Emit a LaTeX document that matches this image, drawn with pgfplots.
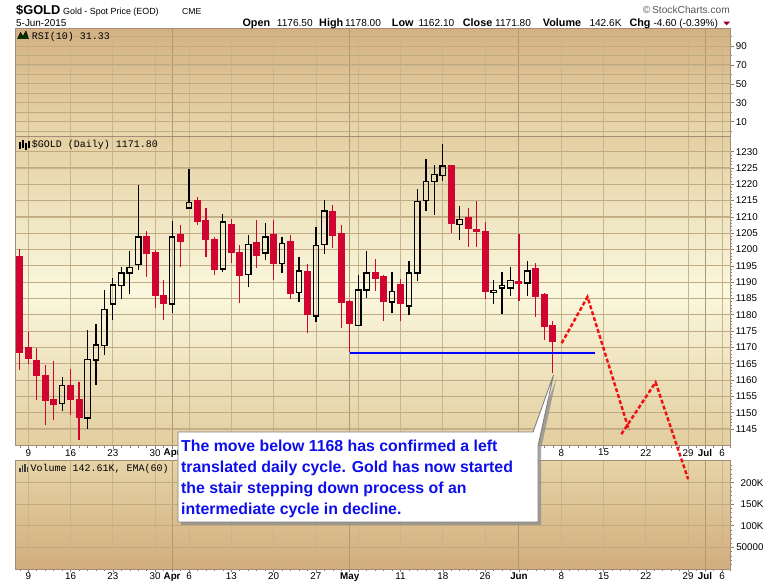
\documentclass[border=0pt]{standalone}
\usepackage{fontspec}
\setmainfont{Liberation Sans}
\newfontfamily\monofont{Liberation Mono}
\usepackage{pgfplots}
\usepackage{pgfplotstable}
\pgfplotsset{compat=1.18}

\definecolor{candred}{RGB}{208,4,48}
\definecolor{gridc}{RGB}{200,180,142}
\definecolor{hgridc}{RGB}{192,170,130}
\definecolor{monthc}{RGB}{175,152,120}
\definecolor{borderc}{RGB}{165,140,118}
\definecolor{tickc}{RGB}{150,122,100}
\definecolor{txtblue}{RGB}{14,14,236}
\definecolor{rsitop}{RGB}{212,177,130}
\definecolor{rsibot}{RGB}{233,216,172}
\definecolor{prtop}{RGB}{228,208,162}
\definecolor{prmid}{RGB}{250,248,222}
\definecolor{prbot}{RGB}{226,205,158}
\definecolor{voltop}{RGB}{230,211,166}
\definecolor{volbot}{RGB}{210,173,125}
\definecolor{dashred}{RGB}{240,16,16}
\definecolor{chgred}{RGB}{150,0,40}

\tikzset{hgrid/.style={draw=hgridc, line width=1pt}}

% down (red) candles: index open high low close
\pgfplotstableread{
i o h l c
-1 1197.7 1200.3 1163.0 1168.3
0 1169.8 1174.7 1164.9 1166.4
1 1165.9 1169.8 1153.8 1161.1
2 1161.3 1164.7 1146.3 1153.5
3 1154.0 1165.9 1147.7 1152.2
5 1158.3 1163.4 1149.4 1153.8
6 1154.0 1159.5 1141.7 1148.3
14 1203.8 1205.7 1191.7 1198.5
15 1198.9 1199.9 1182.2 1185.9
16 1185.9 1190.7 1178.3 1183.2
18 1204.5 1207.6 1194.8 1202.4
20 1214.9 1216.0 1207.6 1208.3
21 1208.8 1212.7 1197.6 1202.8
22 1203.0 1203.7 1192.2 1193.8
24 1207.6 1209.4 1196.0 1198.8
25 1199.0 1201.4 1183.5 1192.0
27 1202.0 1209.1 1194.2 1197.9
29 1204.5 1209.1 1190.7 1195.6
31 1202.3 1204.5 1184.9 1186.5
33 1193.2 1195.6 1174.3 1179.8
36 1211.5 1213.7 1200.6 1204.0
37 1204.8 1207.6 1176.1 1183.5
38 1183.9 1184.6 1168.5 1177.3
41 1192.8 1197.1 1187.4 1190.9
42 1191.6 1192.2 1178.0 1183.8
44 1189.1 1190.9 1178.0 1183.2
50 1225.6 1225.6 1205.2 1207.7
52 1209.6 1212.7 1200.9 1206.4
53 1206.2 1214.9 1200.9 1205.5
54 1205.4 1208.5 1184.7 1187.1
58 1190.1 1204.7 1184.1 1189.4
60 1194.1 1195.8 1179.2 1185.6
61 1186.1 1186.6 1172.3 1176.4
62 1176.5 1178.0 1162.1 1171.8
}\down

% up (hollow) candles
\pgfplotstableread{
i o h l c
4 1152.7 1161.0 1150.4 1158.4
7 1148.4 1175.4 1145.0 1166.4
8 1166.1 1177.2 1158.6 1170.7
9 1170.5 1187.7 1167.8 1181.7
10 1183.3 1191.3 1178.5 1189.1
11 1188.9 1194.7 1184.7 1192.8
12 1192.8 1199.6 1186.3 1194.6
13 1195.5 1219.8 1193.8 1203.8
17 1183.3 1208.8 1180.4 1203.8
19 1212.7 1224.7 1212.7 1214.5
23 1194.0 1210.9 1193.0 1208.4
26 1192.4 1204.5 1188.4 1201.6
28 1198.9 1208.2 1196.8 1203.8
30 1195.8 1203.9 1192.7 1201.9
32 1186.9 1197.8 1183.8 1193.4
34 1179.6 1206.9 1177.7 1201.3
35 1201.6 1215.2 1198.7 1211.8
39 1176.8 1192.2 1176.8 1187.6
40 1187.6 1199.6 1185.0 1192.8
43 1183.9 1193.1 1180.4 1187.1
45 1182.7 1196.4 1179.8 1192.8
46 1192.8 1218.5 1190.4 1214.8
47 1215.1 1227.8 1211.9 1220.8
48 1220.8 1225.9 1210.7 1223.1
49 1222.8 1232.3 1221.1 1225.6
51 1207.7 1213.4 1202.8 1209.3
55 1186.9 1190.7 1183.2 1187.4
56 1188.2 1193.1 1180.1 1188.9
57 1188.2 1194.7 1185.9 1190.6
59 1189.7 1196.5 1185.9 1193.4
}\up

\pgfplotsset{
 panel/.style={
  scale only axis, width=714.7pt,
  xmin=-1.454, xmax=83.03,
  axis line style={draw=borderc, line width=1pt},
  xtick={0,5,10,15,19,24,29,34,39,44,49,54,63,68,73,78,82},
  xticklabels={9,16,23,30,6,13,20,27,{},11,18,26,8,15,22,29,6},
  extra x ticks={17,38,58,80},
  extra x tick labels={\textbf{Apr},\textbf{May},\textbf{Jun},\textbf{Jul}},
  extra x tick style={major grid style={draw=monthc, line width=1pt}},
  xmajorgrids, ymajorgrids,
  major grid style={draw=gridc, line width=0.8pt},
  tick align=outside,
  xtick pos=left, ytick pos=right,
  yticklabel pos=right,
  tick style={draw=tickc, line width=0.6pt},
  major tick length=3pt, minor tick length=1.6pt,
  ticklabel style={font=\fontsize{9.8}{11}\selectfont},
  /pgf/number format/assume math mode=true,
  /pgf/number format/1000 sep={},
  yticklabel style={anchor=west, inner sep=0pt, xshift=2pt},
  xticklabel style={anchor=north, inner sep=0pt},
  minor xtick={-1,0,...,83},
 },
 candle/.style={draw=none, mark=none, forget plot},
}

\begin{document}
\begin{tikzpicture}[x=1pt,y=1pt]
\fill[white] (0,0) rectangle (780,586);
\path[use as bounding box] (0,0) rectangle (780,586);

% ---------- RSI panel ----------
\begin{axis}[panel, at={(16pt,449pt)}, anchor=south west, height=108pt,
  ymin=-6.2, ymax=108,
  ytick={10,30,50,70,90}, minor ytick={0,20,40,60,80,100},
  xticklabels={}, extra x tick labels={},
  xmajorticks=false, xminorticks=false,
  axis background/.style={top color=rsitop, bottom color=rsibot}]
\pgfplotsinvokeforeach{0,10,...,100}{\draw[hgrid] (axis cs:-1.454,#1) -- (axis cs:83.03,#1);}
\addplot[draw=none, mark=none] coordinates {(0,50)};
\end{axis}

% ---------- Volume panel ----------
\begin{axis}[panel, at={(16pt,16.7pt)}, anchor=south west, height=108.3pt,
  ymin=-1.2, ymax=250.3,
  ytick={50,100,150,200}, yticklabels={50000,100K,150K,200K},
  minor ytick={10,20,...,240},
  yticklabel style={anchor=east, inner sep=0pt, xshift=28pt},
  axis background/.style={top color=voltop, bottom color=volbot}]
\pgfplotsinvokeforeach{50,100,150,200}{\draw[hgrid] (axis cs:-1.454,#1) -- (axis cs:83.03,#1);}
\addplot[draw=none, mark=none] coordinates {(0,50)};
\end{axis}

% ---------- Price panel ----------
\begin{axis}[panel, at={(16pt,140pt)}, anchor=south west, height=309pt,
  ymin=1139.78, ymax=1234.5, clip=false,
  xticklabels={9,16,23,30,{},{},{},{},{},{},{},{},8,15,22,29,6},
  extra x tick labels={\textbf{Apr},{},{},\textbf{Jul}},
  ytick={1145,1150,...,1230}, minor y tick num=4,
  axis background/.style={shade, top color=prtop, bottom color=prbot, middle color=prmid}]
\pgfplotsinvokeforeach{1145,1150,...,1230}{\draw[hgrid] (axis cs:-1.454,#1) -- (axis cs:83.03,#1);}
% red candles: wicks and bodies
\addplot[candle, error bars/.cd, y dir=plus, y explicit, error mark=none,
  error bar style={draw=candred, line width=1.2pt}]
  table[x=i, y=l, y error expr=\thisrow{h}-\thisrow{l}] {\down};
\addplot[candle, error bars/.cd, y dir=plus, y explicit, error mark=none,
  error bar style={draw=candred, line width=7pt}]
  table[x=i, y=c, y error expr=\thisrow{o}-\thisrow{c}+0.25] {\down};
% hollow candles: wicks
\addplot[candle, error bars/.cd, y dir=plus, y explicit, error mark=none,
  error bar style={draw=black, line width=1.2pt}]
  table[x=i, y=l, y error expr=\thisrow{o}-\thisrow{l}] {\up};
\addplot[candle, error bars/.cd, y dir=plus, y explicit, error mark=none,
  error bar style={draw=black, line width=1.2pt}]
  table[x=i, y=c, y error expr=\thisrow{h}-\thisrow{c}] {\up};
% hollow candles: body outline
\addplot[candle, error bars/.cd, y dir=plus, y explicit, error mark=none,
  error bar style={draw=black, line width=1.3pt}]
  table[x expr=\thisrow{i}-0.319, y=o, y error expr=\thisrow{c}-\thisrow{o}] {\up};
\addplot[candle, error bars/.cd, y dir=plus, y explicit, error mark=none,
  error bar style={draw=black, line width=1.3pt}]
  table[x expr=\thisrow{i}+0.319, y=o, y error expr=\thisrow{c}-\thisrow{o}] {\up};
\addplot[candle, error bars/.cd, x dir=both, x fixed=0.396, error mark=none,
  error bar style={draw=black, line width=1.3pt}]
  table[x=i, y=o] {\up};
\addplot[candle, error bars/.cd, x dir=both, x fixed=0.396, error mark=none,
  error bar style={draw=black, line width=1.3pt}]
  table[x=i, y=c] {\up};
% support line
\addplot[draw=blue, line width=2pt, mark=none] coordinates {(38,1168.4) (66.95,1168.4)};
% projected path
\addplot[dashred, line width=2.4pt, mark=none, dash pattern=on 4pt off 2.2pt]
  coordinates {(63.05,1171.3) (66.1,1185.5) (71.0,1144.7)};
\addplot[dashred, line width=2.4pt, mark=none, dash pattern=on 4pt off 2.2pt]
  coordinates {(70.1,1143.4) (74.15,1159.3) (78.0,1129.6)};
\end{axis}

% ---------- panel labels and icons ----------
\fill[black!80!green] (17.5,547) -- (20.5,553.5) -- (23,549.5) -- (26,555) -- (28.5,547) -- cycle;
\draw[black, line width=0.5pt] (17.5,547) -- (20.5,553.5) -- (23,549.5) -- (26,555) -- (28.5,547);
\node[anchor=base west, inner sep=0pt, font=\monofont\fontsize{10}{12}\selectfont] at (31.7,546.8) {RSI(10) 31.33};

\foreach \xx/\a/\b in {20/437/444, 23/438/445.5, 26/436/443, 29/437.5/444.5}
  \draw[black, line width=1.4pt] (\xx,\a) -- (\xx,\b);
\node[anchor=base west, inner sep=0pt, font=\monofont\fontsize{10}{12}\selectfont] at (31.7,438.2) {\$GOLD (Daily) 1171.80};

\foreach \xx/\hh in {20/4, 22.5/6.5, 25/8, 27.5/5}
  \fill[black!75] (\xx-0.8,114) rectangle (\xx+0.8,114+\hh);
\node[anchor=base west, inner sep=0pt, font=\monofont\fontsize{10}{12}\selectfont] at (30.5,114) {Volume 142.61K, EMA(60)};

% ---------- header ----------
\node[anchor=base west, inner sep=0pt, font=\bfseries\fontsize{12.8}{14}\selectfont] at (16,571) {\$GOLD};
\node[anchor=base west, inner sep=0pt, font=\fontsize{8.9}{11}\selectfont] at (63,571) {Gold - Spot Price (EOD)};
\node[anchor=base west, inner sep=0pt, font=\fontsize{8.6}{10}\selectfont] at (182,571) {CME};
\node[anchor=base east, inner sep=0pt, font=\fontsize{10.2}{12}\selectfont, text=black!65] at (730,572) {\textcopyright\,StockCharts.com};
\node[anchor=base west, inner sep=0pt, font=\fontsize{9.9}{12}\selectfont] at (16,559.3) {5-Jun-2015};
\foreach \xx/\t in {242.3/Open, 319/High, 391.7/Low, 462.7/Close, 542.7/Volume, 629.3/Chg}
  \node[anchor=base west, inner sep=0pt, font=\bfseries\fontsize{10.8}{12}\selectfont] at (\xx,559.3) {\t};
\foreach \xx/\t in {276.7/1176.50, 345/1178.00, 418.3/1162.10, 495/1171.80, 589.3/142.6K}
  \node[anchor=base west, inner sep=0pt, font=\fontsize{10.1}{12}\selectfont] at (\xx,559.3) {\t};
\node[anchor=base west, inner sep=0pt, font=\fontsize{10.1}{12}\selectfont] at (653.3,559.3) {-4.60 (-0.39\%)};
\fill[chgred] (723.3,564.3) -- (730,564.3) -- (726.6,560.6) -- cycle;

% ---------- callout ----------
\fill[black!45, opacity=0.75] (181,151) -- (536,151) -- (556.5,208) -- (541,137) -- (541,61) -- (181,61) -- cycle;
\filldraw[fill=white, draw=black!50, line width=0.9pt] (178,154) -- (533,154) -- (553.5,211) -- (538,140) -- (538,64) -- (178,64) -- cycle;
\begin{scope}[every node/.style={anchor=base west, inner sep=0pt, text=txtblue, font=\bfseries\fontsize{15.85}{19}\selectfont}]
\node at (181,134.3) {The move below 1168 has confirmed a left};
\node at (181,113.5) {translated daily cycle. Gold has now started};
\node at (181,92.7) {the stair stepping down process of an};
\node at (181,71.9) {intermediate cycle in decline.};
\end{scope}
\end{tikzpicture}
\end{document}
